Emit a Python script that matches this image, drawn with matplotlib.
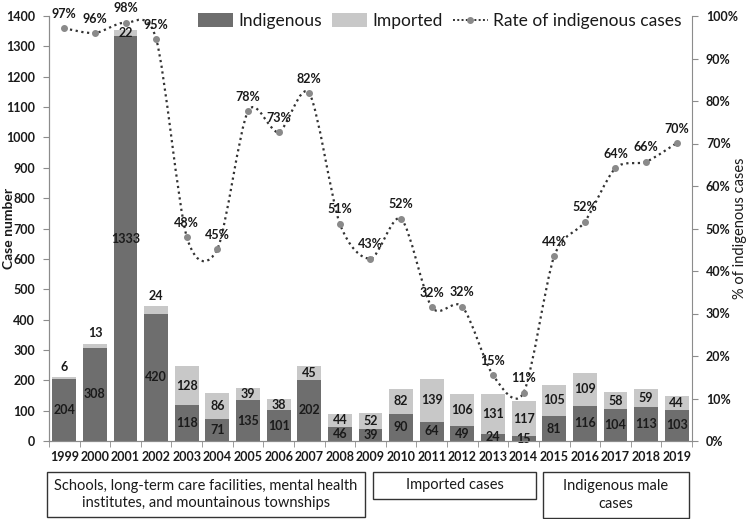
import matplotlib
matplotlib.use('Agg')
import matplotlib.pyplot as plt
from matplotlib.patches import Rectangle, Patch
from matplotlib.lines import Line2D
from matplotlib.path import Path
from matplotlib.patches import PathPatch
import numpy as np

plt.rcParams['font.family'] = ['Lato', 'DejaVu Sans']

years = ['1999', '2000', '2001', '2002', '2003', '2004', '2005', '2006', '2007', '2008',
         '2009', '2010', '2011', '2012', '2013', '2014', '2015', '2016', '2017', '2018', '2019']
indigenous = [204, 308, 1333, 420, 118, 71, 135, 101, 202, 46,
              39, 90, 64, 49, 24, 15, 81, 116, 104, 113, 103]
imported = [6, 13, 22, 24, 128, 86, 39, 38, 45, 44,
            52, 82, 139, 106, 131, 117, 105, 109, 58, 59, 44]
rate = [0.971, 0.960, 0.984, 0.946, 0.480, 0.452, 0.776, 0.727, 0.818, 0.511,
        0.429, 0.523, 0.315, 0.316, 0.155, 0.114, 0.435, 0.516, 0.642, 0.657, 0.701]
rate_labels = ['97%', '96%', '98%', '95%', '48%', '45%', '78%', '73%', '82%', '51%',
               '43%', '52%', '32%', '32%', '15%', '11%', '44%', '52%', '64%', '66%', '70%']
periods = ['Schools, long-term care facilities, mental health\ninstitutes, and mountainous townships',
           'Imported cases', 'Indigenous male\ncases']

DARK = '#6e6e6e'
LIGHT = '#c8c8c8'
AXC = '#8c8c8c'
TXT = '#1a1a1a'


def smooth_path(x, y, k):
    # Excel-like smoothed line: Catmull-Rom converted to cubic bezier,
    # computed with y scaled by k so the curve looks right on screen
    pts = np.column_stack([x, np.asarray(y) * k])
    n = len(pts)
    verts = [pts[0]]
    codes = [Path.MOVETO]
    for i in range(n - 1):
        p0 = pts[i - 1] if i > 0 else pts[i]
        p1 = pts[i]
        p2 = pts[i + 1]
        p3 = pts[i + 2] if i + 2 < n else pts[i + 1]
        c1 = p1 + (p2 - p0) / 7
        c2 = p2 - (p3 - p1) / 7
        verts += [c1, c2, p2]
        codes += [Path.CURVE4] * 3
    verts = np.array(verts)
    verts[:, 1] /= k
    return Path(verts, codes)


fig = plt.figure(figsize=(7.5, 5.19), dpi=100)
ax = fig.add_axes([49 / 750, 1 - 441 / 519, (692 - 49) / 750, (441 - 16) / 519])
ax2 = ax.twinx()

x = np.arange(len(years))
ax.bar(x, indigenous, width=0.78, color=DARK, zorder=2)
ax.bar(x, imported, width=0.78, bottom=indigenous, color=LIGHT, zorder=2)

FS = 9
for i in range(len(years)):
    ax.text(x[i], indigenous[i] / 2, str(indigenous[i]), ha='center', va='center',
            fontsize=FS, fontweight='bold', color=TXT, zorder=3)
    top = indigenous[i] + imported[i]
    if imported[i] < 30 and top > 1300:
        ax.text(x[i], top - 10, str(imported[i]), ha='center', va='center',
                fontsize=FS, fontweight='bold', color=TXT, zorder=3)
    elif imported[i] < 30:
        ax.annotate(str(imported[i]), (x[i], top), xytext=(0, 3), textcoords='offset points',
                    ha='center', va='bottom', fontsize=FS, fontweight='bold', color=TXT)
    else:
        ax.text(x[i], indigenous[i] + imported[i] / 2, str(imported[i]), ha='center',
                va='center', fontsize=FS, fontweight='bold', color=TXT, zorder=3)

ax.set_xlim(-0.5, len(years) - 0.5)
ax.set_ylim(0, 1400)
ax.set_yticks(range(0, 1401, 100))
ax.set_xticks(x)
ax.set_xticklabels(years)
ax.set_xticks(np.arange(-0.5, len(years), 1), minor=True)
ax.tick_params(axis='x', which='major', length=0, pad=7, labelsize=FS, labelcolor=TXT)
ax.tick_params(axis='x', which='minor', length=4, color=AXC, direction='out')
ax.tick_params(axis='y', length=4, color=AXC, pad=6, labelsize=FS, labelcolor=TXT)
for lab in ax.get_xticklabels() + ax.get_yticklabels():
    lab.set_fontweight('bold')

ax2.set_ylim(0, 1)
ax2.set_yticks(np.arange(0, 1.01, 0.1))
ax2.set_yticklabels([f'{int(round(v * 100))}%' for v in np.arange(0, 1.01, 0.1)])
ax2.tick_params(axis='y', length=4, color=AXC, pad=6, labelsize=FS, labelcolor=TXT)
for lab in ax2.get_yticklabels():
    lab.set_fontweight('bold')

# axis titles placed in figure pixels so they stay inside the canvas
fig.text(9 / 750, 1 - 228 / 519, 'Case number', rotation=90, ha='center', va='center',
         fontsize=10, fontweight='bold', color=TXT)
fig.text(740 / 750, 1 - 228 / 519, '% of indigenous cases', rotation=90, ha='center',
         va='center', fontsize=10.5, color=TXT)

for a in (ax, ax2):
    a.spines['top'].set_visible(False)
    for s in ('left', 'right', 'bottom'):
        a.spines[s].set_color(AXC)
ax.spines['right'].set_visible(False)

k = (424 / 1.0) / (643 / 21)
ax2.add_patch(PathPatch(smooth_path(x, rate, k), fill=False, edgecolor='#333333',
                        linestyle=(0, (1, 1.6)), linewidth=1.6, zorder=4))
ax2.plot(x, rate, linestyle='none', marker='o', markersize=4, color='#8a8a8a', zorder=5)
for i in range(len(years)):
    ax2.annotate(rate_labels[i], (x[i], rate[i]), xytext=(0, 6), textcoords='offset points',
                 ha='center', va='bottom', fontsize=FS, fontweight='bold', color=TXT, zorder=6)

handles = [Patch(facecolor=DARK, edgecolor='none'),
           Patch(facecolor=LIGHT, edgecolor='none'),
           Line2D([], [], color='#333333', linestyle=(0, (1, 1.2)), linewidth=1.4,
                  marker='o', markersize=4, markerfacecolor='#8a8a8a', markeredgecolor='#8a8a8a')]
fig.legend(handles, ['Indigenous', 'Imported', 'Rate of indigenous cases'],
           loc='center', bbox_to_anchor=(440 / 750, 1 - 21 / 519), ncol=3, frameon=False,
           fontsize=12.5, handlelength=2.0, handleheight=0.8, handletextpad=0.3,
           columnspacing=0.6, labelcolor=TXT)

# period boxes under the x axis (pixel layout)
boxes = [(47, 472, 365, 517), (373, 472, 536, 499), (543, 472, 689, 518)]
for (x0, y0, x1, y1), txt in zip(boxes, periods):
    fig.patches.append(Rectangle((x0 / 750, 1 - y1 / 519), (x1 - x0) / 750, (y1 - y0) / 519,
                                 transform=fig.transFigure, fill=False, edgecolor='#333333',
                                 linewidth=1.0))
    fig.text((x0 + x1) / 2 / 750, 1 - (y0 + y1) / 2 / 519, txt, ha='center', va='center',
             fontsize=10.5, color=TXT, linespacing=1.3)

fig.savefig('out.png', dpi=100)
